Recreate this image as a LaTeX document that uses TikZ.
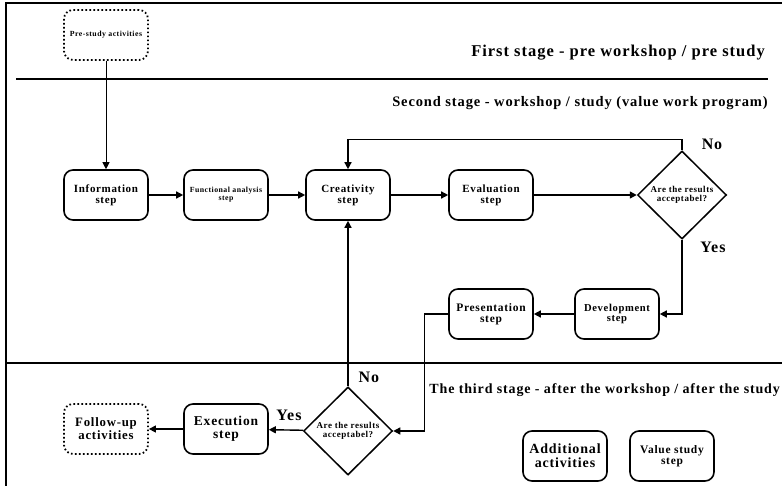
\documentclass[tikz,border=0pt]{standalone}
\usepackage{fontspec}
\setmainfont{Liberation Serif}
\usetikzlibrary{arrows.meta,shapes.geometric}

\newcommand{\fsz}[1]{\bfseries\fontsize{#1}{#1}\selectfont\addfontfeatures{LetterSpace=6}}

\tikzset{
    stepbox/.style={draw, line width=1.6pt, rounded corners=9pt, minimum width=84pt,
        minimum height=50pt, align=center, inner sep=1pt},
    dotbox/.style={stepbox, line width=1.8pt, dash pattern=on 1.6pt off 2.4pt},
    question/.style={draw, diamond, line width=1.5pt, minimum width=89pt,
        minimum height=88pt, inner sep=0pt, align=center, font=\fsz{9}},
    flow/.style={line width=1.4pt, -{Triangle[length=7pt,width=7pt]}},
    frameline/.style={line width=1.6pt},
    stage/.style={anchor=east, inner sep=0pt},
    answer/.style={inner sep=0pt, font=\fsz{16}},
}

\begin{document}
\begin{tikzpicture}[x=1pt,y=-1pt]
    \useasboundingbox (0,0) rectangle (782,486);

    \draw[frameline] (6,486) -- (6,3) -- (782,3);
    \draw[frameline] (16,79) -- (768,79);
    \draw[frameline] (6,363) -- (782,363);

    \node[stage, font=\fsz{16.5}] (first) at (765,53) {First stage - pre workshop / pre study};
    \node[stage, font=\fsz{14.5}] (second) at (768,103) {Second stage - workshop / study (value work program)};
    \node[stage, font=\fsz{14}] (third) at (780,390) {The third stage - after the workshop / after the study};

    \node[dotbox, font=\fsz{7.8}] (pre) at (106,35) {Pre-study activities};
    \node[stepbox, font=\fsz{11}] (info) at (106,195) {Information\\step};
    \node[stepbox, font=\fsz{7.8}] (func) at (226,195) {Functional analysis\\step};
    \node[stepbox, font=\fsz{11}] (creat) at (348,195) {Creativity\\step};
    \node[stepbox, font=\fsz{11}] (eval) at (491,195) {Evaluation\\step};
    \node[question] (check1) at (682,195) {Are the results\\acceptabel?};
    \node[stepbox, font=\fsz{10.6}] (devel) at (617,314) {Development\\step};
    \node[stepbox, font=\fsz{11.5}] (pres) at (491,314) {Presentation\\step};
    \node[question] (check2) at (348,431) {Are the results\\acceptabel?};
    \node[stepbox, font=\fsz{13.5}] (exec) at (226,429) {Execution\\step};
    \node[dotbox, font=\fsz{12.8}] (follow) at (106,429) {Follow-up\\activities};
    \node[stepbox, font=\fsz{14}] (extra) at (565,456) {Additional\\activities};
    \node[stepbox, font=\fsz{11.5}] (value) at (672,456) {Value study\\step};

    \node[answer] (no1) at (712,144) {No};
    \node[answer] (yes1) at (713,247) {Yes};
    \node[answer] (no2) at (369,377) {No};
    \node[answer] (yes2) at (289,415) {Yes};

    \draw[flow, line width=0.8pt] (pre) -- (info);
    \draw[flow] (info) -- (func);
    \draw[flow] (func) -- (creat);
    \draw[flow] (creat) -- (eval);
    \draw[flow] (eval) -- (check1);
    \draw[flow] (check1.north) -- ++(0,-11) -| (creat.north);
    \draw[flow] (check1.south) |- (devel.east);
    \draw[flow] (devel) -- (pres);
    \draw[flow] (pres.west) -- ++(-24,0) |- (check2.east);
    \draw[flow] (check2.north) -- (creat.south);
    \draw[flow] (check2) -- (exec);
    \draw[flow] (exec) -- (follow);
\end{tikzpicture}
\end{document}
